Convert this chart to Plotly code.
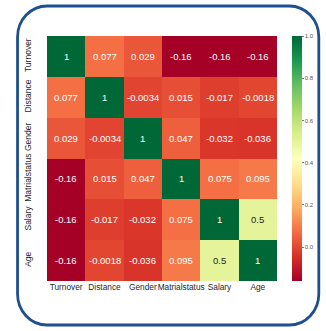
import plotly.graph_objects as go

# Correlation matrix of employee attributes
labels = ["Turnover", "Distance", "Gender", "Matrialstatus", "Salary", "Age"]
turnover = [1, 0.077, 0.029, -0.16, -0.16, -0.16]
distance = [0.077, 1, -0.0034, 0.015, -0.017, -0.0018]
gender = [0.029, -0.0034, 1, 0.047, -0.032, -0.036]
matrialstatus = [-0.16, 0.015, 0.047, 1, 0.075, 0.095]
salary = [-0.16, -0.017, -0.032, 0.075, 1, 0.5]
age = [-0.16, -0.0018, -0.036, 0.095, 0.5, 1]
matrix = [turnover, distance, gender, matrialstatus, salary, age]
colorbar_ticks = [0.0, 0.2, 0.4, 0.6, 0.8, 1.0]

rdylgn = ["#a50026", "#d73027", "#f46d43", "#fdae61", "#fee08b", "#ffffbf",
          "#d9ef8b", "#a6d96a", "#66bd63", "#1a9850", "#006837"]
scale = [[i / (len(rdylgn) - 1), c] for i, c in enumerate(rdylgn)]

FONT = "Liberation Sans, Arial, sans-serif"

W, H = 326, 331
ML, MR, MT, MB = 47, 37, 36, 50
PW, PH = W - ML - MR, H - MT - MB


def px(x):
    return (x - ML) / PW


def py(y):
    return (H - MB - y) / PH


fig = go.Figure(go.Heatmap(
    z=matrix, x=labels, y=labels,
    colorscale=scale, zmin=-0.16, zmax=1,
    xgap=0, ygap=0,
    colorbar=dict(
        x=px(305), xanchor="left", xpad=0,
        y=0.5, yanchor="middle", len=1, lenmode="fraction", ypad=0,
        thickness=10, outlinewidth=0,
        tickvals=colorbar_ticks, tickformat=".1f",
        ticks="outside", ticklen=2, tickcolor="#777",
        tickfont=dict(size=6, color="#555", family=FONT),
    ),
    hoverinfo="skip",
))

# value labels in each cell
for r, row in enumerate(matrix):
    for c, v in enumerate(row):
        fig.add_annotation(
            x=labels[c], y=labels[r], text=str(v), showarrow=False,
            font=dict(size=9.5, color="#262626" if 0.3 < v < 0.8 else "white",
                      family=FONT),
        )

# rounded frame around the figure
left, top, right, bottom, rad = 16, 6, 333, 325, 31
k = 0.5523 * rad
path = (
    f"M {px(left + rad)},{py(top)} L {px(right - rad)},{py(top)} "
    f"C {px(right - rad + k)},{py(top)} {px(right)},{py(top + rad - k)} {px(right)},{py(top + rad)} "
    f"L {px(right)},{py(bottom - rad)} "
    f"C {px(right)},{py(bottom - rad + k)} {px(right - rad + k)},{py(bottom)} {px(right - rad)},{py(bottom)} "
    f"L {px(left + rad)},{py(bottom)} "
    f"C {px(left + rad - k)},{py(bottom)} {px(left)},{py(bottom - rad + k)} {px(left)},{py(bottom - rad)} "
    f"L {px(left)},{py(top + rad)} "
    f"C {px(left)},{py(top + rad - k)} {px(left + rad - k)},{py(top)} {px(left + rad)},{py(top)} Z"
)
fig.add_shape(type="path", path=path, xref="paper", yref="paper",
              line=dict(color="#1d4f91", width=2.8), fillcolor="rgba(0,0,0,0)",
              layer="above")

fig.update_layout(
    width=W, height=H,
    margin=dict(l=ML, r=MR, t=MT, b=MB),
    paper_bgcolor="white", plot_bgcolor="white",
    xaxis=dict(showgrid=False, zeroline=False, ticks="", showline=False,
               tickfont=dict(size=8.3, color="#262626", family=FONT),
               tickangle=0),
    yaxis=dict(showgrid=False, zeroline=False, ticks="", showline=False,
               autorange="reversed", tickangle=-90, ticklabelstandoff=13,
               tickfont=dict(size=8.5, color="#262626", family=FONT)),
    showlegend=False,
)

fig.write_html("out.html")
